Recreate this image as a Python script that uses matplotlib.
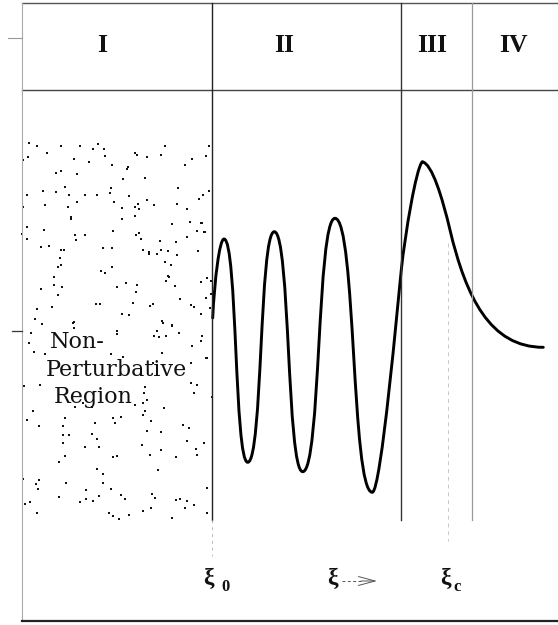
import matplotlib.pyplot as plt
from matplotlib.path import Path
from matplotlib.patches import PathPatch

# region labels in the header row
region_labels = ['I', 'II', 'III', 'IV']
region_label_x = [102, 284, 432, 513]

# region boundaries (page units, left to right)
xi_0 = 212
bound_2_3 = 401
bound_3_4 = 472
xi_c = 448

# wave function: start point, then for every piece
# (control 1, control 2, end point) of a cubic curve
wave_start = (212.7, 318.0)
wave_pieces = [
    ((214.5, 280.0), (219.5, 239.0), (224.0, 239.0)),   # first crest
    ((237.3, 239.0), (234.4, 462.3), (247.7, 462.3)),   # trough
    ((262.6, 462.3), (259.4, 231.7), (274.3, 231.7)),   # crest
    ((290.2, 231.7), (286.8, 471.7), (302.7, 471.7)),   # trough
    ((320.8, 471.7), (316.9, 218.3), (335.0, 218.3)),   # crest
    ((355.9, 218.3), (351.4, 492.3), (372.3, 492.3)),   # deepest trough
    ((381.0, 492.3), (398.0, 300.6), (401.5, 268.0)),
    ((405.0, 235.4), (416.0, 168.0), (422.3, 161.7)),   # main peak
    ((432.0, 164.0), (442.0, 196.4), (450.0, 230.0)),
    ((466.0, 297.0), (490.0, 347.3), (543.3, 347.3)),   # decaying tail
]

# scattered dots of the non-perturbative region, (x, y) pairs
dots = [(29, 143), (37, 146), (61, 146), (80, 146), (98, 144), (93, 149), (104, 149), (165, 146),
        (209, 146), (28, 157), (23, 160), (47, 153), (74, 159), (89, 162), (105, 156), (135, 153),
        (137, 155), (147, 157), (161, 155), (192, 159), (206, 156), (185, 165), (112, 165), (127, 169),
        (128, 167), (56, 173), (61, 171), (77, 174), (123, 179), (145, 178), (65, 187), (111, 188),
        (43, 191), (56, 192), (27, 195), (69, 195), (85, 195), (97, 195), (110, 193), (129, 196),
        (178, 188), (209, 191), (203, 195), (199, 199), (147, 200), (114, 202), (77, 202), (45, 205),
        (23, 207), (68, 207), (122, 208), (135, 207), (138, 204), (139, 209), (154, 205), (177, 204),
        (187, 209), (71, 217), (71, 219), (135, 216), (122, 219), (190, 222), (201, 223), (172, 224),
        (27, 227), (44, 230), (197, 231), (204, 232), (113, 231), (139, 233), (136, 235), (141, 239),
        (22, 234), (27, 239), (75, 235), (76, 240), (85, 235), (187, 237), (160, 241), (176, 242),
        (41, 247), (49, 246), (61, 250), (64, 250), (103, 248), (112, 248), (143, 250), (149, 252),
        (149, 254), (157, 254), (161, 250), (168, 251), (177, 255), (198, 251), (60, 258), (61, 265),
        (58, 267), (112, 267), (165, 262), (171, 265), (101, 271), (105, 273), (54, 277), (168, 276),
        (169, 277), (166, 281), (207, 278), (211, 281), (201, 282), (54, 285), (62, 287), (117, 287),
        (126, 283), (137, 285), (175, 286), (41, 289), (58, 295), (136, 292), (211, 294), (206, 298),
        (180, 299), (52, 307), (96, 304), (100, 304), (133, 303), (150, 306), (153, 304), (191, 305),
        (194, 307), (210, 308), (37, 309), (35, 319), (42, 324), (122, 314), (129, 315), (162, 321),
        (172, 326), (201, 314), (74, 322), (74, 328), (202, 223), (205, 232),
        (73, 323), (31, 333), (29, 343), (34, 352), (117, 331), (117, 334), (157, 331), (154, 336),
        (159, 337), (163, 323), (172, 325), (166, 336), (179, 333), (202, 336), (201, 341), (192, 346),
        (162, 353), (111, 354), (123, 357), (45, 354), (207, 358), (191, 363), (153, 363), (24, 386),
        (40, 385), (191, 383), (197, 385), (194, 393), (145, 387), (144, 393), (147, 400), (143, 403),
        (135, 405), (164, 408), (145, 411), (143, 415), (75, 407), (92, 407), (83, 403), (33, 411),
        (27, 420), (39, 426), (65, 418), (113, 418), (121, 417), (115, 423), (95, 423), (63, 426),
        (151, 421), (147, 431), (161, 432), (183, 425), (189, 428), (63, 435), (69, 435), (92, 434),
        (97, 439), (63, 443), (85, 447), (99, 447), (142, 445), (187, 441), (196, 449), (204, 443),
        (161, 450), (150, 455), (176, 457), (197, 455), (65, 456), (59, 462), (113, 457), (117, 456),
        (97, 469), (103, 474), (158, 470), (23, 479), (39, 480), (36, 484), (38, 489), (66, 483),
        (103, 483), (111, 489), (86, 490), (59, 497), (80, 502), (86, 499), (93, 501), (99, 496),
        (121, 495), (125, 499), (152, 494), (155, 498), (176, 500), (180, 499), (187, 501), (194, 505),
        (185, 508), (207, 488), (25, 504), (30, 502), (37, 513), (109, 513), (113, 516), (119, 519),
        (129, 515), (143, 511), (151, 508), (172, 518), (207, 513), (206, 358), (212, 397)]

text_lines = ['Non-', 'Perturbative', 'Region']
text_pos = [(50, 342), (46, 370), (54, 397)]

fig = plt.figure(figsize=(5.58, 6.25), dpi=100)
ax = fig.add_axes([0, 0, 1, 1])
ax.set_xlim(0, 558)
ax.set_ylim(625, 0)
ax.axis('off')

# frame and header row
ax.plot([22, 558], [3, 3], color='#555555', lw=1.0)
ax.plot([22, 558], [90, 90], color='#444444', lw=1.0)
ax.plot([22, 22], [3, 621], color='#aaaaaa', lw=0.8)
ax.plot([22, 558], [621, 621], color='#222222', lw=1.6)
ax.plot([8, 22], [38, 38], color='#999999', lw=0.8)
ax.plot([12, 22], [331, 331], color='#333333', lw=0.9)

# region boundaries
ax.plot([xi_0, xi_0], [3, 520], color='#222222', lw=1.0)
ax.plot([xi_0, xi_0], [520, 556], color='#bbbbbb', lw=0.7, ls=(0, (3, 4)))
ax.plot([bound_2_3, bound_2_3], [3, 520], color='#333333', lw=1.0)
ax.plot([bound_3_4, bound_3_4], [3, 520], color='#999999', lw=0.9)
ax.plot([xi_c, xi_c], [243, 541], color='#c8c8c8', lw=0.7, ls=(0, (4, 4)))

for lab, lx in zip(region_labels, region_label_x):
    ax.text(lx, 46, lab, ha='center', va='center', fontsize=18.5,
            fontweight='bold', family='Liberation Serif', color='#111111')

dot_x = [p[0] for p in dots]
dot_y = [p[1] for p in dots]
ax.scatter(dot_x, dot_y, s=2.2, marker='s', color='#111111', linewidths=0)

verts = [wave_start]
codes = [Path.MOVETO]
for c1, c2, end in wave_pieces:
    verts += [c1, c2, end]
    codes += [Path.CURVE4] * 3
ax.add_patch(PathPatch(Path(verts, codes), facecolor='none', edgecolor='black',
                       lw=2.1, capstyle='round', joinstyle='round'))

for line, (tx, ty) in zip(text_lines, text_pos):
    ax.text(tx, ty, line, ha='left', va='center', fontsize=16,
            family='DejaVu Serif', color='#111111')

# axis labels: xi_0, xi with arrow, xi_c
lab_kw = dict(family='Liberation Serif', fontweight='bold', color='#111111')
ax.text(203, 578, 'ξ', ha='left', va='center', fontsize=17, **lab_kw)
ax.text(221, 587, '0', ha='left', va='center', fontsize=12, **lab_kw)
ax.text(327, 578, 'ξ', ha='left', va='center', fontsize=17, **lab_kw)
ax.plot([342, 361], [581, 581], color='#555555', lw=0.7, ls=(0, (3, 2.5)))
ax.annotate('', xy=(377, 581), xytext=(361, 581),
            arrowprops=dict(arrowstyle='->,head_length=1.2,head_width=0.32',
                            lw=0.7, color='#555555', mutation_scale=10,
                            shrinkA=0, shrinkB=0))
ax.text(440, 578, 'ξ', ha='left', va='center', fontsize=17, **lab_kw)
ax.text(453, 587, 'c', ha='left', va='center', fontsize=12, **lab_kw)

fig.savefig('out.png', dpi=100)
